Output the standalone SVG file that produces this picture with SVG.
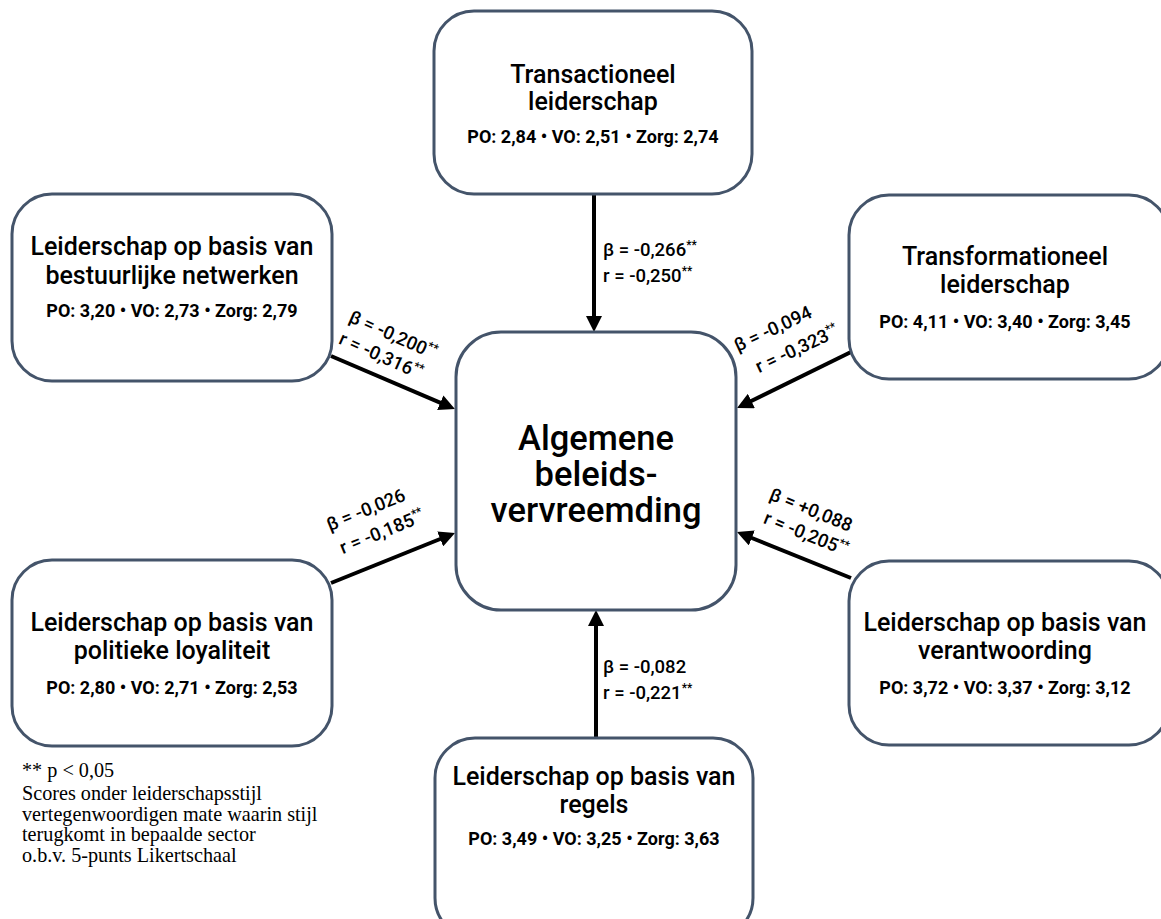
<svg xmlns="http://www.w3.org/2000/svg" width="1161" height="919" viewBox="0 0 1161 919">
<style>
.box{fill:#fff;stroke:#44546A;stroke-width:3}
.t{font-family:Roboto,"Liberation Sans",Arial,sans-serif;font-weight:500;font-size:25px;fill:#000;text-anchor:middle}
.s{font-family:Roboto,"Liberation Sans",Arial,sans-serif;font-size:18px;font-weight:bold;fill:#000;text-anchor:middle}
.c{font-family:Roboto,"Liberation Sans",Arial,sans-serif;font-weight:500;font-size:34.5px;fill:#000;text-anchor:middle}
.l{font-family:Roboto,"Liberation Sans",Arial,sans-serif;font-weight:500;font-size:18.5px;fill:#000}
.lm{text-anchor:middle}
.sup{font-size:12px}
.n{font-family:"Liberation Serif","Times New Roman",serif;font-size:20.2px;fill:#000}
.a{stroke:#000;stroke-width:4;fill:none;marker-end:url(#ah)}
</style>
<defs>
<marker id="ah" viewBox="0 0 10 10" refX="5" refY="5" markerWidth="16" markerHeight="16" markerUnits="userSpaceOnUse" orient="auto"><path d="M0,0 L10,5 L0,10 z" fill="#000"/></marker>
</defs>
<rect width="1161" height="919" fill="#fff"/>

<g id="connectors">
<line class="a" x1="594" y1="195" x2="594" y2="324"/>
<line class="a" x1="596" y1="738" x2="596" y2="618"/>
<line class="a" x1="331" y1="356" x2="447.6" y2="405.9"/>
<line class="a" x1="851" y1="352" x2="744.2" y2="404.5"/>
<line class="a" x1="331" y1="583" x2="447.6" y2="536"/>
<line class="a" x1="851" y1="578" x2="744.4" y2="535"/>
</g>

<g id="edge-labels">
<text class="l" x="603" y="256">β = -0,266<tspan class="sup" dy="-7">**</tspan></text>
<text class="l" x="603" y="282">r = -0,250<tspan class="sup" dy="-7">**</tspan></text>
<text class="l" x="603" y="673">β = -0,082</text>
<text class="l" x="603" y="699">r = -0,221<tspan class="sup" dy="-7">**</tspan></text>
<text class="l lm" transform="translate(393,335) rotate(24)" y="6">β = -0,200<tspan class="sup" dy="-7">**</tspan></text>
<text class="l lm" transform="translate(381,356) rotate(24)" y="6">r = -0,316<tspan class="sup" dy="-7">**</tspan></text>
<text class="l lm" transform="translate(773,329) rotate(-25)" y="6">β = -0,094</text>
<text class="l lm" transform="translate(797,349) rotate(-25)" y="6">r = -0,323<tspan class="sup" dy="-7">**</tspan></text>
<text class="l lm" transform="translate(366,510) rotate(-22)" y="6">β = -0,026</text>
<text class="l lm" transform="translate(382,532) rotate(-22)" y="6">r = -0,185<tspan class="sup" dy="-7">**</tspan></text>
<text class="l lm" transform="translate(811,510) rotate(22)" y="6">β = +0,088</text>
<text class="l lm" transform="translate(806,534) rotate(22)" y="6">r = -0,205<tspan class="sup" dy="-7">**</tspan></text>
</g>

<g id="node-center">
<rect class="box" x="456" y="332" width="280" height="278" rx="45"/>
<text class="c"><tspan x="596" y="450">Algemene</tspan><tspan x="596" y="486">beleids-</tspan><tspan x="596" y="522">vervreemding</tspan></text>
</g>

<g id="node-transactioneel">
<rect class="box" x="434" y="11" width="318" height="183" rx="40"/>
<text class="t" x="593" y="83">Transactioneel</text>
<text class="t" x="593" y="110">leiderschap</text>
<text class="s" x="593" y="143">PO: 2,84 • VO: 2,51 • Zorg: 2,74</text>
</g>

<g id="node-netwerken">
<rect class="box" x="12" y="194" width="320" height="187" rx="40"/>
<text class="t" x="172" y="255">Leiderschap op basis van</text>
<text class="t" x="172" y="284">bestuurlijke netwerken</text>
<text class="s" x="172" y="317">PO: 3,20 • VO: 2,73 • Zorg: 2,79</text>
</g>

<g id="node-transformationeel">
<rect class="box" x="849" y="195" width="320" height="184" rx="40"/>
<text class="t" x="1005" y="265">Transformationeel</text>
<text class="t" x="1005" y="293">leiderschap</text>
<text class="s" x="1005" y="328">PO: 4,11 • VO: 3,40 • Zorg: 3,45</text>
</g>

<g id="node-loyaliteit">
<rect class="box" x="12" y="560" width="320" height="186" rx="40"/>
<text class="t" x="172" y="631">Leiderschap op basis van</text>
<text class="t" x="172" y="659">politieke loyaliteit</text>
<text class="s" x="172" y="694">PO: 2,80 • VO: 2,71 • Zorg: 2,53</text>
</g>

<g id="node-verantwoording">
<rect class="box" x="849" y="561" width="320" height="184" rx="40"/>
<text class="t" x="1005" y="631">Leiderschap op basis van</text>
<text class="t" x="1005" y="659">verantwoording</text>
<text class="s" x="1005" y="694">PO: 3,72 • VO: 3,37 • Zorg: 3,12</text>
</g>

<g id="node-regels">
<rect class="box" x="435" y="738" width="318" height="200" rx="40"/>
<text class="t" x="594" y="785">Leiderschap op basis van</text>
<text class="t" x="594" y="813">regels</text>
<text class="s" x="594" y="845">PO: 3,49 • VO: 3,25 • Zorg: 3,63</text>
</g>

<g id="footnote">
<text class="n" x="22" y="777">** p &lt; 0,05</text>
<text class="n" x="22" y="800">Scores onder leiderschapsstijl</text>
<text class="n" x="22" y="820.5">vertegenwoordigen mate waarin stijl</text>
<text class="n" x="22" y="841">terugkomt in bepaalde sector</text>
<text class="n" x="22" y="861.5">o.b.v. 5-punts Likertschaal</text>
</g>
</svg>
